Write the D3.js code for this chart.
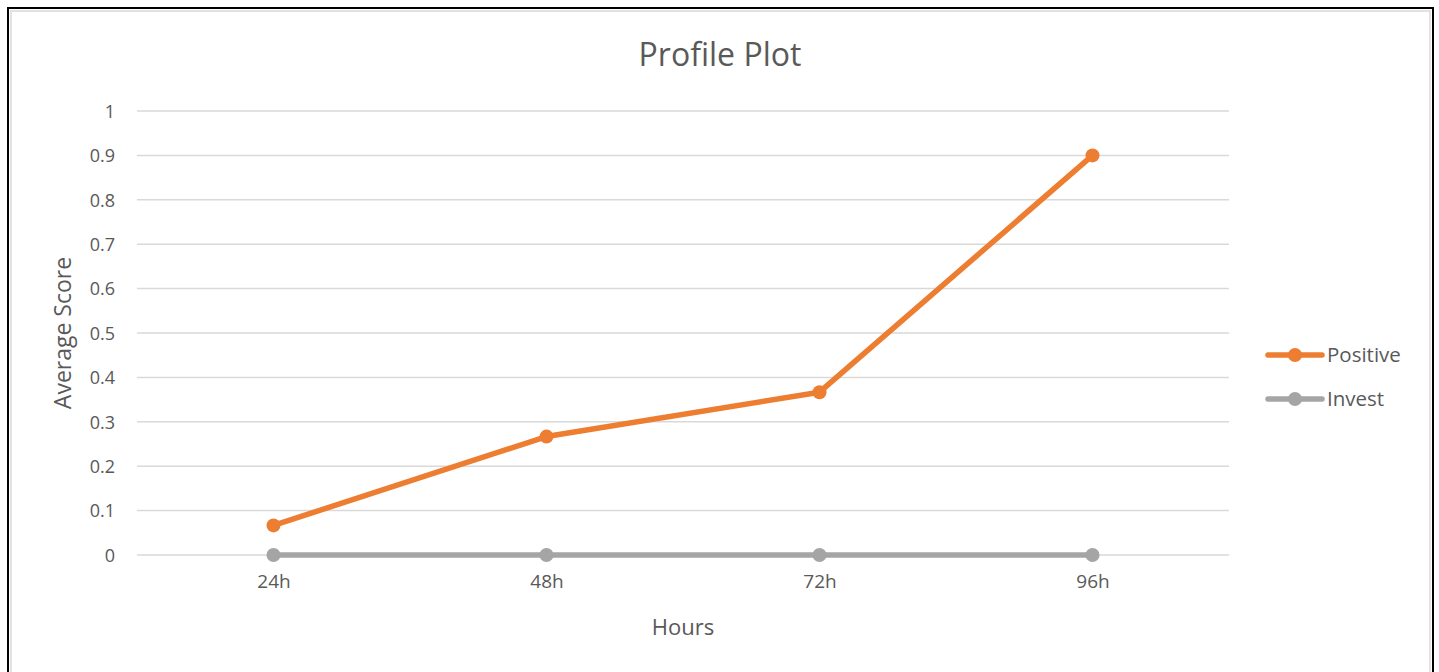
<!DOCTYPE html>
<html><head><meta charset="utf-8">
<script src="https://cdn.jsdelivr.net/npm/d3@7"></script>
<style>body{margin:0;background:#fff;}svg{display:block;}</style>
</head><body>
<script>
const categories = ["24h","48h","72h","96h"];
const positive = [0.0667, 0.2667, 0.3667, 0.9];
const invest = [0, 0, 0, 0];
const yTicks = [0,0.1,0.2,0.3,0.4,0.5,0.6,0.7,0.8,0.9,1];
const seriesNames = ["Positive","Invest"];
const seriesColors = ["#ED7D31","#A5A5A5"];

const W=1439,H=672;
const svg=d3.select("body").append("svg").attr("width",W).attr("height",H);
const font="'Open Sans', 'Liberation Sans', sans-serif";
// borders
svg.append("rect").attr("x",8).attr("y",8).attr("width",1425).attr("height",700).attr("fill","#fff").attr("stroke","#000").attr("stroke-width",2);
svg.append("rect").attr("x",11).attr("y",11).attr("width",1419).attr("height",700).attr("fill","none").attr("stroke","#d9d9d9").attr("stroke-width",1.5);

const x=d3.scalePoint().domain(categories).range([137,1229]).padding(0.5);
const y=d3.scaleLinear().domain([0,1]).range([555,111]);

// gridlines
svg.append("g").selectAll("line").data(yTicks).join("line")
  .attr("x1",137).attr("x2",1229).attr("y1",d=>y(d)).attr("y2",d=>y(d))
  .attr("stroke","#d9d9d9").attr("stroke-width",1.5);

// y axis labels
const yAxis=d3.axisLeft(y).tickValues(yTicks).tickFormat(d3.format("~g")).tickSize(0).tickPadding(0);
const ya=svg.append("g").attr("transform","translate(115,0)").call(yAxis);
ya.select(".domain").remove();
ya.selectAll("text").attr("font-family",font).attr("font-size",18).attr("fill","#595959").attr("dy","0.35em");

const xAxis=d3.axisBottom(x).tickSize(0).tickPadding(0);
const xa=svg.append("g").attr("transform","translate(0,574)").call(xAxis);
xa.select(".domain").remove();
xa.selectAll("text").attr("font-family",font).attr("font-size",19).attr("fill","#595959").attr("dy","0.71em");

const line=d3.line().x((d,i)=>x(categories[i])).y(d=>y(d));
[invest,positive].forEach((vals,k)=>{
  const idx = k===0?1:0;
  const c=seriesColors[idx];
  svg.append("path").attr("d",line(vals)).attr("fill","none").attr("stroke",c).attr("stroke-width",5.5).attr("stroke-linejoin","round");
  svg.append("g").selectAll("circle").data(vals).join("circle")
    .attr("cx",(d,i)=>x(categories[i])).attr("cy",d=>y(d)).attr("r",7).attr("fill",c);
});

// titles
svg.append("text").attr("x",720).attr("y",66).attr("text-anchor","middle").attr("font-family",font).attr("font-size",32).attr("fill","#595959").text("Profile Plot");
svg.append("text").attr("x",683).attr("y",635).attr("text-anchor","middle").attr("font-family",font).attr("font-size",22).attr("fill","#595959").text("Hours");
svg.append("text").attr("transform","translate(71,333) rotate(-90)").attr("text-anchor","middle").attr("font-family",font).attr("font-size",23).attr("fill","#595959").text("Average Score");

// legend
const lg=svg.append("g");
seriesNames.forEach((n,i)=>{
  const yy=355+i*44;
  lg.append("line").attr("x1",1268).attr("x2",1322).attr("y1",yy).attr("y2",yy).attr("stroke",seriesColors[i]).attr("stroke-width",5.5).attr("stroke-linecap","round");
  lg.append("circle").attr("cx",1295).attr("cy",yy).attr("r",7).attr("fill",seriesColors[i]);
  lg.append("text").attr("x",1327).attr("y",yy).attr("dy","0.35em").attr("font-family",font).attr("font-size",20.5).attr("fill","#595959").text(n);
});
</script>
</body></html>
